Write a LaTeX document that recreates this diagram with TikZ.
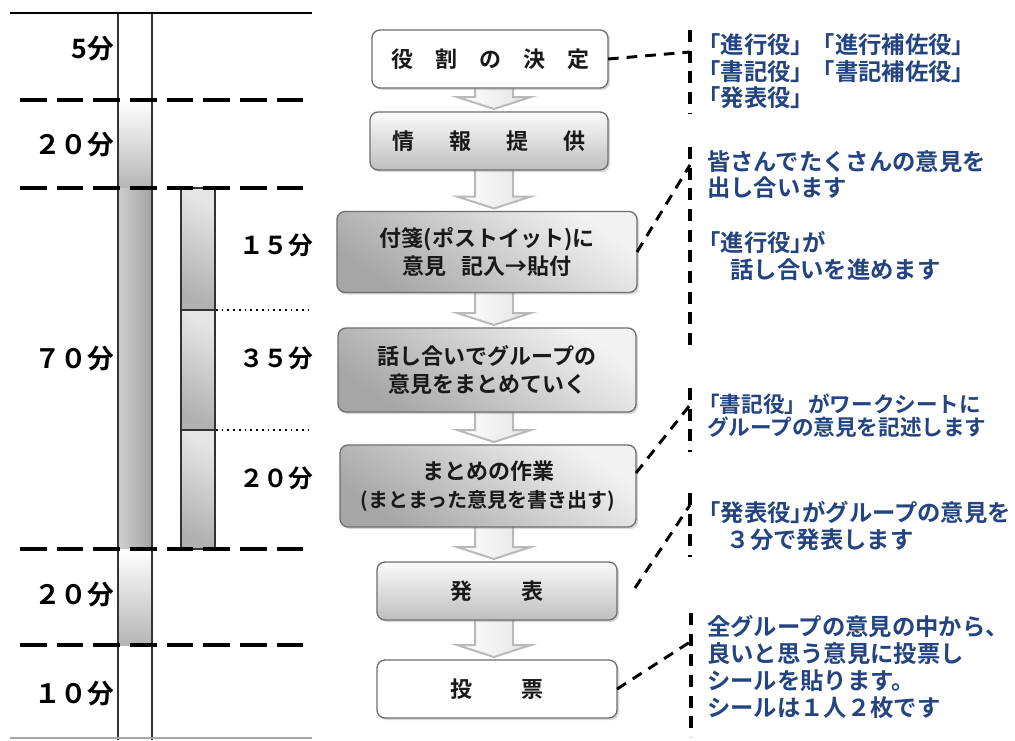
\documentclass[tikz,border=0pt]{standalone}
\usepackage{fontspec}
\newfontfamily\jp[BoldFont={Noto Sans CJK JP Bold}]{Noto Sans CJK JP}
\newfontfamily\jpn[BoldFont={Noto Sans CJK JP Bold},RawFeature=+halt]{Noto Sans CJK JP}
\usetikzlibrary{calc,shadows,backgrounds}
\definecolor{navy}{RGB}{35,68,128}
\definecolor{frame}{RGB}{110,110,110}
\newcommand\flowarrow[2]{%
  \draw[hollow] ($(#1.south -| ax)+(-19,0)$) -- ($(#2.north -| ax)+(-19,-15)$)
    -- ($(#2.north -| ax)+(-37,-15)$) -- ($(#2.north -| ax)+(0,-3)$)
    -- ($(#2.north -| ax)+(37,-15)$) -- ($(#2.north -| ax)+(19,-15)$)
    -- ($(#1.south -| ax)+(19,0)$);}
\begin{document}
\begin{tikzpicture}[x=0.75pt,y=-0.75pt,
  every node/.style={inner sep=0pt, outer sep=0pt},
  boxbase/.style={draw=frame, line width=1pt, rounded corners=6pt, align=center,
    font=\jp\bfseries\fontsize{16.5}{21.5}\selectfont, text=black!90,
    drop shadow={shadow xshift=1.5pt, shadow yshift=-1.5pt, opacity=0.3}},
  whitebox/.style={boxbase, fill=white},
  lightbox/.style={boxbase, top color=gray!4, bottom color=gray!50},
  darkbox/.style={boxbase, top color=gray!10, bottom color=gray!70, shading angle=-35},
  hollow/.style={draw=gray!55, line width=1.5pt, left color=white, right color=gray!22, line join=miter},
  biglabel/.style={anchor=base east, font=\jp\bfseries\fontsize{20}{24}\selectfont, text=black},
  sublabel/.style={anchor=base east, font=\jp\bfseries\fontsize{18.5}{22}\selectfont, text=black},
  note/.style={anchor=base west, font=\jpn\bfseries\fontsize{17.5}{20}\selectfont, text=navy},
  smallnote/.style={anchor=base west, font=\jpn\bfseries\fontsize{16.2}{19}\selectfont, text=navy},
  bigdash/.style={line width=3pt, dash pattern=on 20pt off 7.5pt},
  barline/.style={draw=gray!40!black, line width=0.9pt},
  conn/.style={line width=2.2pt, dash pattern=on 8pt off 6pt},
  vdash/.style={line width=2.6pt, dash pattern=on 9pt off 6.5pt},
  dotline/.style={line width=1.3pt, dash pattern=on 1.3pt off 3pt}
]
\useasboundingbox (0,0) rectangle (1015,740);
\coordinate (ax) at (494,0);

% ---------- left timeline ----------
\shade[top color=white, bottom color=gray!58] (118,100) rectangle (152,188);
\shade[left color=gray!38, middle color=gray!10, right color=gray!72] (118,188) rectangle (152,549);
\shade[top color=white, bottom color=gray!58] (118,549) rectangle (152,645);
\shade[top color=gray!20, bottom color=gray!62, shading angle=-30] (181,188) rectangle (215,310);
\shade[top color=gray!20, bottom color=gray!62, shading angle=-30] (181,310) rectangle (215,430);
\shade[top color=gray!20, bottom color=gray!62, shading angle=-30] (181,430) rectangle (215,549);
\draw[barline] (118,13) -- (118,740) (152,13) -- (152,740);
\draw[barline] (181,188) rectangle (215,549) (181,310) -- (215,310) (181,430) -- (215,430);

\draw[line width=2.2pt] (10,13) -- (312,13);
\draw[bigdash] (20,100) -- (312,100);
\draw[bigdash] (20,188) -- (312,188);
\draw[bigdash] (20,549) -- (312,549);
\draw[bigdash] (20,645) -- (312,645);
\draw[gray!70, line width=1pt] (10,738) -- (312,738);
\draw[dotline] (216,310) -- (313,310);
\draw[dotline] (216,430) -- (313,430);

\node[biglabel] (m1) at (114,58) {5分};
\node[biglabel] (m2) at (114,154) {２０分};
\node[biglabel] (m3) at (114,368) {７０分};
\node[biglabel] (m4) at (114,604) {２０分};
\node[biglabel] (m5) at (114,703) {１０分};
\node[sublabel] (s1) at (313,254) {１５分};
\node[sublabel] (s2) at (313,367) {３５分};
\node[sublabel] (s3) at (313,487) {２０分};

% ---------- flow boxes ----------
\node[whitebox, minimum width=236*0.75pt, minimum height=58*0.75pt] (b1) at (490,59) {役　割　の　決　定};
\node[lightbox, minimum width=238*0.75pt, minimum height=58*0.75pt] (b2) at (489,141) {情\hspace{1.6em}報\hspace{1.6em}提\hspace{1.6em}供};
\node[darkbox, minimum width=300*0.75pt, minimum height=81*0.75pt] (b3) at (487,252) {付箋(ポストイット)に\\意見\hspace{0.7em}記入→貼付};
\node[darkbox, minimum width=298*0.75pt, minimum height=84*0.75pt] (b4) at (487,370) {話し合いでグループの\\意見をまとめていく};
\node[darkbox, minimum width=296*0.75pt, minimum height=82*0.75pt] (b5) at (488,486) {まとめの作業\\[-1pt]{\fontsize{15}{20}\selectfont (まとまった意見を書き出す)}};
\node[lightbox, minimum width=240*0.75pt, minimum height=58*0.75pt] (b6) at (497,591) {発\hspace{2.2em}表};
\node[whitebox, minimum width=240*0.75pt, minimum height=58*0.75pt] (b7) at (497,689) {投\hspace{2.2em}票};

\begin{scope}[on background layer]
  \fill[white] (0,0) rectangle (1015,740);
  \flowarrow{b1}{b2}
  \flowarrow{b2}{b3}
  \flowarrow{b3}{b4}
  \flowarrow{b4}{b5}
  \flowarrow{b5}{b6}
  \flowarrow{b6}{b7}
\end{scope}

% ---------- notes ----------
\draw[vdash] (690,30) -- (690,113);
\draw[vdash] (690,147) -- (690,350);
\draw[vdash] (690,388) -- (690,452);
\draw[vdash] (690,493) -- (690,557);
\draw[vdash] (691,613) -- (691,737);

\coordinate (v1) at (690,52);
\coordinate (v2) at (690,165);
\coordinate (v3) at (690,405);
\coordinate (v4) at (690,505);
\coordinate (v5) at (690,642);
\draw[conn] (b1.east) -- (v1);
\draw[conn] (b3.east) -- (v2);
\draw[conn] ($(b5.east)+(0,-13)$) -- (v3);
\draw[conn] ($(b6.east)+(18,-3)$) -- (v4);
\draw[conn] (b7.east) -- (v5);

\node[note] (n1a) at (709,53.5) {「進行役」\kern0.9em「進行補佐役」};
\node[note] (n1b) at (709,80.5) {「書記役」\kern0.9em「書記補佐役」};
\node[note] (n1c) at (709,106.5) {「発表役」};
\node[note] (n2a) at (707,170.5) {皆さんでたくさんの意見を};
\node[note] (n2b) at (707,196.5) {出し合います};
\node[note] (n2c) at (709,251.5) {「進行役」が};
\node[note] (n2d) at (707,278.5) {\hspace{1em}話し合いを進めます};
\node[smallnote] (n3a) at (709,412.5) {「書記役」\kern0.6em がワークシートに};
\node[smallnote] (n3b) at (707,435.5) {グループの意見を記述します};
\node[note] (n4a) at (709,521.5) {「発表役」がグループの意見を};
\node[note] (n4b) at (707,548.5) {\hspace{0.85em}３分で発表します};
\node[note] (n5a) at (707,635.5) {全グループの意見の中から、};
\node[note] (n5b) at (707,662.5) {良いと思う意見に投票し};
\node[note] (n5c) at (707,689.5) {シールを貼ります。};
\node[note] (n5d) at (707,716.5) {シールは１人２枚です};
\end{tikzpicture}
\end{document}
